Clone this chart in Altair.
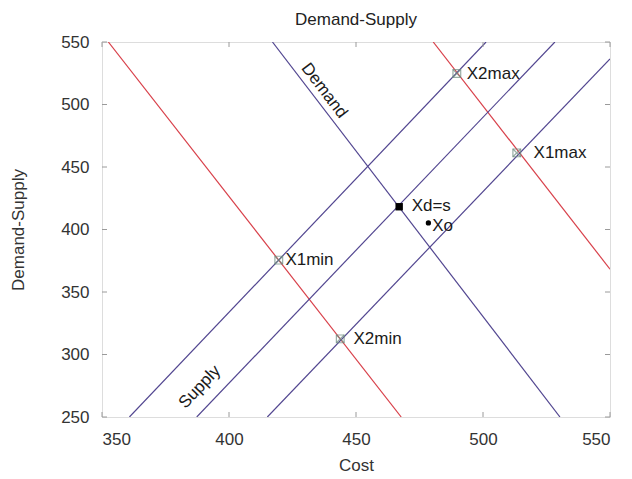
import altair as alt
import pandas as pd

# ---- data ----
cost_ticks = [350, 400, 450, 500, 550]
ds_ticks = [250, 300, 350, 400, 450, 500, 550]

red1_cost = [352.5, 467.8]
red1_ds = [550, 250]
red2_cost = [480.4, 550]
red2_ds = [550, 368.3]
demand_cost = [417.1, 530.3]
demand_ds = [550, 250]
supply1_cost = [360.8, 501.2]
supply1_ds = [250, 550]
supply2_cost = [387.3, 528.3]
supply2_ds = [250, 550]
supply3_cost = [415.1, 550]
supply3_ds = [250, 536.5]

bound_names = ["X1min", "X2min", "X1max", "X2max"]
bound_cost = [419.6, 443.8, 513.3, 489.7]
bound_ds = [375.5, 312.5, 461.3, 524.8]

eq_cost = [467.0]
eq_ds = [418.2]
xo_cost = [478.5]
xo_ds = [405.3]

label_text = ["X1min", "X2min", "X1max", "X2max", "Xd=s", "Xo"]
label_cost = [422.2, 449.0, 519.9, 493.6, 471.9, 480.0]
label_ds = [376.0, 312.5, 461.3, 524.8, 419.0, 403.0]

demand_label_cost = [437.5]
demand_label_ds = [511.0]
supply_label_cost = [388.5]
supply_label_ds = [274.0]

# ---- tables ----
rows = []
for name, kind, cs, ds in [
    ("red1", "red", red1_cost, red1_ds),
    ("red2", "red", red2_cost, red2_ds),
    ("demand", "purple", demand_cost, demand_ds),
    ("supply1", "purple", supply1_cost, supply1_ds),
    ("supply2", "purple", supply2_cost, supply2_ds),
    ("supply3", "purple", supply3_cost, supply3_ds),
]:
    for c, d in zip(cs, ds):
        rows.append({"line": name, "kind": kind, "cost": c, "ds": d})
lines_df = pd.DataFrame(rows)
bounds_df = pd.DataFrame({"name": bound_names, "cost": bound_cost, "ds": bound_ds})
eq_df = pd.DataFrame({"cost": eq_cost, "ds": eq_ds})
xo_df = pd.DataFrame({"cost": xo_cost, "ds": xo_ds})
labels_df = pd.DataFrame({"t": label_text, "cost": label_cost, "ds": label_ds})
dlab_df = pd.DataFrame({"t": ["Demand"], "cost": demand_label_cost, "ds": demand_label_ds})
slab_df = pd.DataFrame({"t": ["Supply"], "cost": supply_label_cost, "ds": supply_label_ds})
xt_df = pd.DataFrame({"cost": cost_ticks})
yt_df = pd.DataFrame({"ds": ds_ticks})

W, H = 508, 375
FONT = "Liberation Sans"

xscale = alt.Scale(domain=[350, 550], nice=False, zero=False)
yscale = alt.Scale(domain=[250, 550], nice=False, zero=False)

x_axis = alt.Axis(values=cost_ticks, ticks=False, tickSize=0, grid=False, domain=False,
                  labelPadding=14, labelFontSize=17, labelColor="#333", labelFont=FONT,
                  title="Cost", titleFontSize=17, titleFont=FONT, titleColor="#333",
                  titleFontWeight="normal", titleX=W / 2, titleY=48, titleAlign="center",
                  titleBaseline="middle")
y_axis = alt.Axis(values=ds_ticks, ticks=False, tickSize=0, grid=False, domain=False,
                  labelPadding=13, labelFontSize=17, labelColor="#333", labelFont=FONT,
                  title="Demand-Supply", titleFontSize=17, titleFont=FONT, titleColor="#333",
                  titleFontWeight="normal", titleX=-84, titleY=H / 2, titleAngle=270,
                  titleAlign="center", titleBaseline="middle")

X = alt.X("cost:Q", scale=xscale, axis=x_axis)
Y = alt.Y("ds:Q", scale=yscale, axis=y_axis)
Xn = alt.X("cost:Q", scale=xscale)
Yn = alt.Y("ds:Q", scale=yscale)

lines = alt.Chart(lines_df).mark_line(strokeWidth=1.2, clip=True).encode(
    x=X, y=Y, detail="line:N",
    color=alt.Color("kind:N", scale=alt.Scale(domain=["red", "purple"],
                                              range=["#d8404a", "#524690"]), legend=None),
)

tick_color = "#9a9a9a"
bt = alt.Chart(xt_df).mark_rule(color=tick_color).encode(x=Xn, y=alt.value(H), y2=alt.value(H - 5))
tt = alt.Chart(xt_df).mark_rule(color=tick_color).encode(x=Xn, y=alt.value(0), y2=alt.value(5))
lt = alt.Chart(yt_df).mark_rule(color=tick_color).encode(y=Yn, x=alt.value(0), x2=alt.value(5))
rt = alt.Chart(yt_df).mark_rule(color=tick_color).encode(y=Yn, x=alt.value(W), x2=alt.value(W - 5))

sq = alt.Chart(bounds_df).mark_point(shape="square", size=60, filled=False,
                                     stroke="#6f8c80", strokeWidth=1.2).encode(x=Xn, y=Yn)
xs = alt.Chart(bounds_df).mark_point(shape="M-1,-1L1,1M-1,1L1,-1", size=60, filled=False,
                                     stroke="#6f8c80", strokeWidth=1.2).encode(x=Xn, y=Yn)
eq = alt.Chart(eq_df).mark_point(shape="square", size=55, filled=True, color="black",
                                 opacity=1).encode(x=Xn, y=Yn)
xo = alt.Chart(xo_df).mark_point(shape="circle", size=28, filled=True, color="black",
                                 opacity=1).encode(x=Xn, y=Yn)

labels = alt.Chart(labels_df).mark_text(align="left", baseline="middle", font=FONT,
                                        fontSize=17, color="#1a1a1a").encode(x=Xn, y=Yn, text="t:N")
dlab = alt.Chart(dlab_df).mark_text(align="center", baseline="middle", font=FONT, fontSize=17,
                                    color="#1a1a1a", angle=52.5).encode(x=Xn, y=Yn, text="t:N")
slab = alt.Chart(slab_df).mark_text(align="center", baseline="middle", font=FONT, fontSize=17,
                                    color="#1a1a1a", angle=313.6).encode(x=Xn, y=Yn, text="t:N")

chart = alt.layer(lines, bt, tt, lt, rt, sq, xs, eq, xo, labels, dlab, slab).properties(
    width=W, height=H,
    title=alt.TitleParams("Demand-Supply", fontSize=17, font=FONT, fontWeight="normal",
                          color="#222", anchor="middle", offset=4),
    autosize=alt.AutoSizeParams(type="none"),
    padding={"left": 94, "top": 34, "right": 14, "bottom": 62},
).configure_view(stroke="#555", strokeWidth=1).configure(background="white")

chart.save("out.html", embed_options={"renderer": "svg", "actions": False})
